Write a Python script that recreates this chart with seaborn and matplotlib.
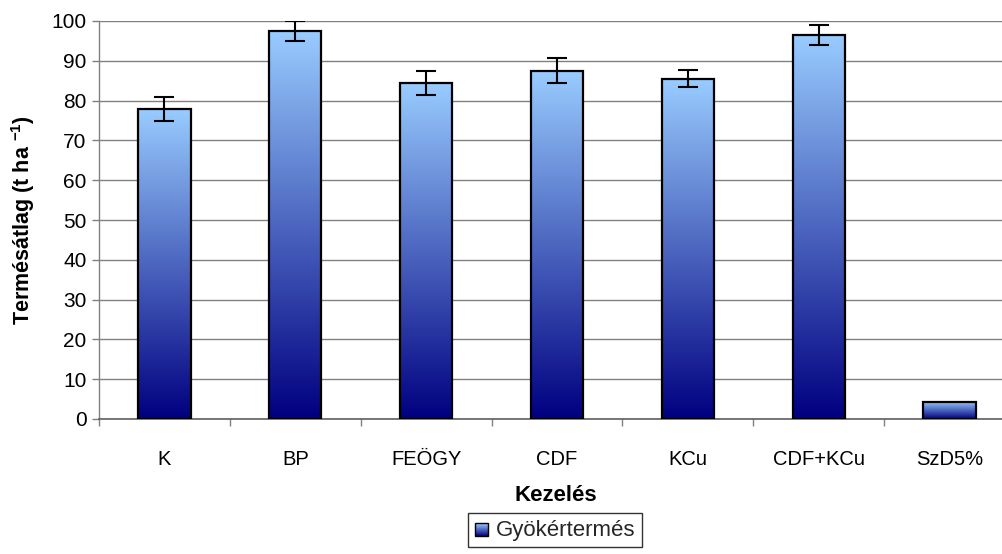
import numpy as np
import pandas as pd
import matplotlib
matplotlib.use("Agg")
import matplotlib.pyplot as plt
import seaborn as sns
from matplotlib.patches import Rectangle

categories = ["K", "BP", "FEÖGY", "CDF", "KCu", "CDF+KCu", "SzD5%"]
values = [78.0, 97.5, 84.5, 87.5, 85.5, 96.5, 4.3]
errors = [3.0, 2.5, 3.0, 3.2, 2.2, 2.5, 0.0]
yticks = list(range(0, 101, 10))
series_name = "Gyökértermés"

sns.set_theme(style="white")
plt.rcParams['font.family'] = ['Liberation Sans', 'DejaVu Sans']
plt.rcParams['mathtext.fontset'] = 'custom'
plt.rcParams['mathtext.rm'] = 'Liberation Sans'
plt.rcParams['mathtext.bf'] = 'Liberation Sans:bold'

W, H = 1003, 554
fig = plt.figure(figsize=(W / 100, H / 100), dpi=100)
ax = fig.add_axes([99 / W, 1 - 419 / H, 916 / W, 398 / H])

df = pd.DataFrame({"cat": categories, "val": values})
sns.barplot(data=df, x="cat", y="val", ax=ax, width=0.4, color="#6688cc",
            edgecolor="black", linewidth=1.6, zorder=3, errorbar=None)

top = np.array([0x99, 0xCC, 0xFF]) / 255
bot = np.array([0x00, 0x00, 0x80]) / 255
t = np.linspace(0, 1, 256)[:, None]
grad = (top[None, :] * (1 - t) + bot[None, :] * t)[:, None, :]

for p in ax.patches:
    x0, y0 = p.get_x(), p.get_y()
    w, h = p.get_width(), p.get_height()
    im = ax.imshow(grad, extent=[x0, x0 + w, y0, y0 + h], aspect='auto',
                   origin='upper', zorder=2.9, interpolation='bilinear')
    im.set_clip_path(p)
    p.set_facecolor('none')

xs = np.arange(len(categories))
for i, (v, e) in enumerate(zip(values, errors)):
    if e > 0:
        ax.errorbar(xs[i], v, yerr=e, fmt='none', ecolor='black',
                    elinewidth=1.5, capsize=7, capthick=1.5, zorder=4)

ax.set_xlim(-0.5, len(categories) - 0.5)
ax.set_ylim(0, 100)
ax.set_yticks(yticks)
ax.yaxis.grid(True, color='#808080', linewidth=1.0, zorder=0)
ax.set_axisbelow(True)
ax.tick_params(axis='y', which='major', left=True, length=5, width=1,
               color='#808080', labelsize=15, pad=4, labelcolor='black')
ax.set_xticks(xs)
ax.set_xticks(np.arange(-0.5, len(categories), 1.0), minor=True)
ax.tick_params(axis='x', which='major', bottom=False, length=0, labelsize=14.5,
               pad=22, labelcolor='black')
ax.tick_params(axis='x', which='minor', bottom=True, length=5, width=1,
               color='#808080')
for s in ['top', 'right']:
    ax.spines[s].set_visible(False)
ax.spines['left'].set_color('#808080')
ax.spines['bottom'].set_color('#606060')
ax.spines['left'].set_linewidth(1)
ax.spines['bottom'].set_linewidth(1.2)

ax.set_xlabel("Kezelés", fontsize=16, fontweight='bold', color='black')
ax.xaxis.set_label_coords(457 / 916, -(485 - 419) / 398)
ax.set_ylabel(r"Termésátlag (t ha $\mathbf{{}^{-1}}$)", fontsize=15.5,
              fontweight='bold', color='black')
ax.yaxis.label.set_va('center')
ax.yaxis.set_label_coords(-(99 - 23) / 916, 0.5)


class GradHandler:
    def legend_artist(self, legend, orig_handle, fontsize, handlebox):
        x0, y0 = handlebox.xdescent, handlebox.ydescent
        w, h = handlebox.width, handlebox.height
        s = min(w, h)
        n = 20
        for k in range(n):
            frac = k / (n - 1)
            c = top * frac + bot * (1 - frac)
            r = Rectangle((x0, y0 + s * k / n), s, s / n, facecolor=c,
                          edgecolor='none', transform=handlebox.get_transform())
            handlebox.add_artist(r)
        border = Rectangle((x0, y0), s, s, facecolor='none', edgecolor='black',
                           linewidth=1.0, transform=handlebox.get_transform())
        handlebox.add_artist(border)
        return border


class Dummy:
    pass


h = Dummy()
leg = fig.legend([h], [series_name], handler_map={Dummy: GradHandler()},
                 loc='upper center', bbox_to_anchor=(555 / W, 1 - 513 / H),
                 frameon=True, fancybox=False, fontsize=16, handlelength=0.6,
                 handleheight=0.6, handletextpad=0.35, borderpad=0.3,
                 borderaxespad=0)
leg.get_frame().set_edgecolor('black')
leg.get_frame().set_linewidth(1.0)

fig.savefig("out.png", dpi=100)
